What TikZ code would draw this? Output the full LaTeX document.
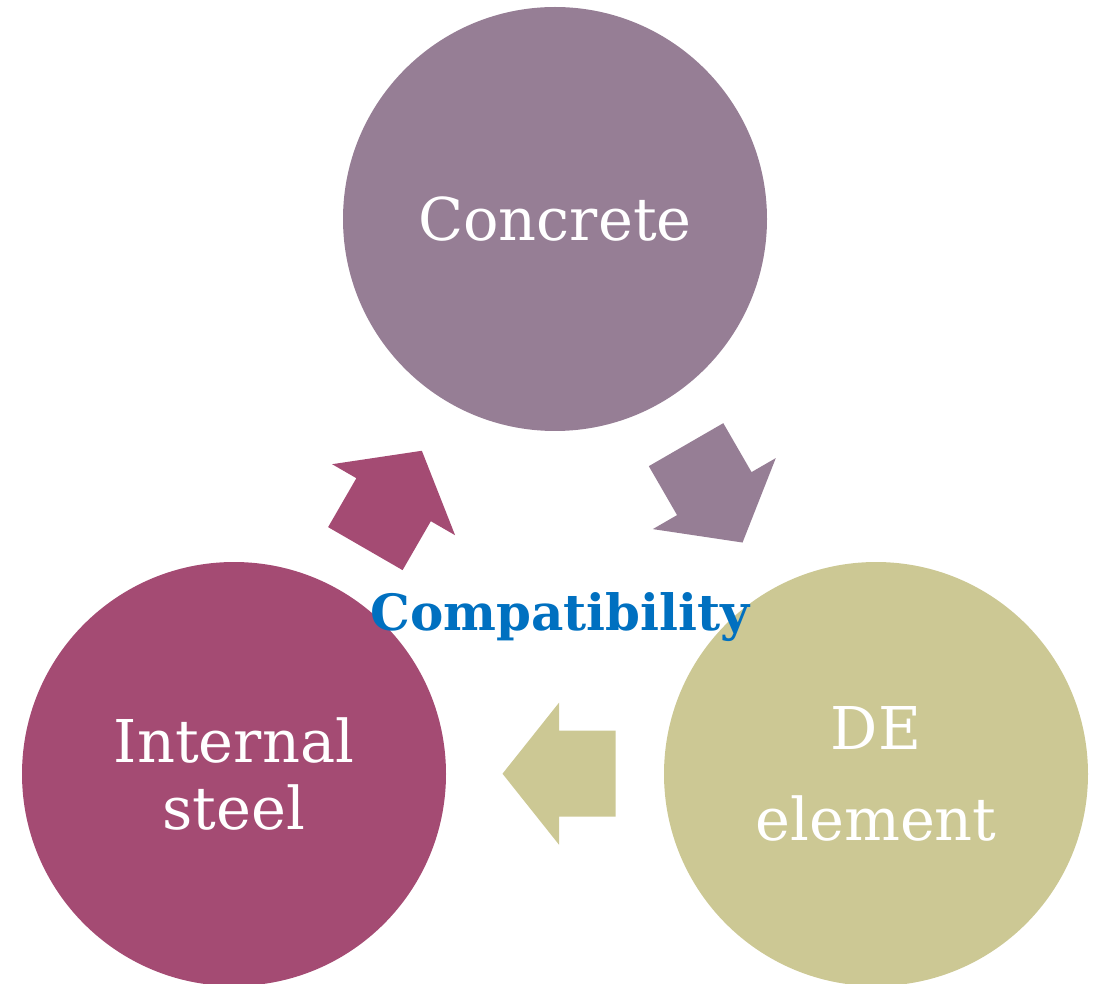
\documentclass[tikz,border=0pt]{standalone}
\usepackage{fontspec}
\setmainfont{DejaVu Serif}
\definecolor{concretecol}{RGB}{150,126,149}
\definecolor{steelcol}{RGB}{164,75,115}
\definecolor{decol}{RGB}{204,200,148}
\definecolor{compatcol}{RGB}{0,112,192}
\tikzset{
  part/.style={circle, minimum size=424pt, inner sep=0pt, text=white, align=center},
  blockarrow/.pic={
    \fill[pic actions] (-56.5,43) -- (0,43) -- (0,71) -- (56.5,0) -- (0,-71)
      -- (0,-43) -- (-56.5,-43) -- cycle;
  }
}
\begin{document}
\begin{tikzpicture}[x=1pt, y=-1pt]
  \useasboundingbox (0,0) rectangle (1104,984);
  \clip (0,0) rectangle (1104,984);
  % the three parts
  \node[part, fill=concretecol, font=\fontsize{59}{72}\selectfont] (concrete) at (555,219) {Concrete};
  \node[part, fill=steelcol, font=\fontsize{59}{66.7}\selectfont] (steel) at (234,774) {Internal\\steel};
  \node[part, fill=decol, font=\fontsize{59}{91}\selectfont] (de) at (876,774) {DE\\element};
  % block arrows between them
  \pic[fill=steelcol] at (393.6,499.7) [rotate=60] {blockarrow};
  \pic[fill=concretecol] at (714.3,493.6) [rotate=-60] {blockarrow};
  \pic[fill=decol] at (559,773.7) [rotate=180] {blockarrow};
  % centre label
  \node[text=compatcol, font=\fontsize{50}{60}\selectfont\bfseries, anchor=base] (compat) at (560,630) {Compatibility};
\end{tikzpicture}
\end{document}
